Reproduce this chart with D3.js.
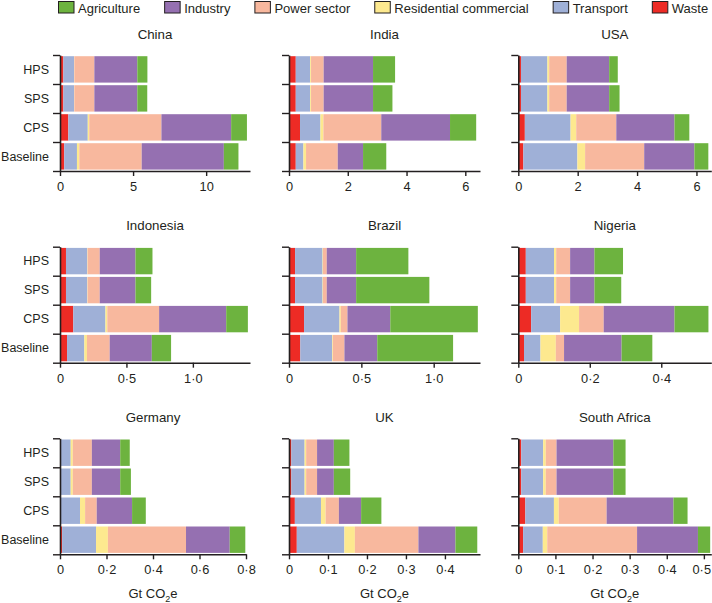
<!DOCTYPE html>
<html>
<head>
<meta charset="utf-8">
<script src="https://cdn.jsdelivr.net/npm/d3@7"></script>
<style>
  html, body { margin: 0; padding: 0; background: #fff; }
  svg text { font-family: "Liberation Sans", Arial, sans-serif; fill: #231f20; }
</style>
</head>
<body>
<svg id="chart" width="712" height="603"></svg>
<script>
// ---------- DATA ----------
const sectors = ["Waste", "Transport", "Residential commercial", "Power sector", "Industry", "Agriculture"];
const legendOrder = ["Agriculture", "Industry", "Power sector", "Residential commercial", "Transport", "Waste"];
const sectorColors = ["#ed2b25", "#9fb0d7", "#fde98f", "#f8b89e", "#9570b1", "#6db33f"];
const scenarios = ["HPS", "SPS", "CPS", "Baseline"];
const countries = ["China", "India", "USA", "Indonesia", "Brazil", "Nigeria", "Germany", "UK", "South Africa"];

// values per scenario, in sector order: Waste, Transport, Residential commercial, Power sector, Industry, Agriculture (Gt CO2e)
const china = [
  [0.23, 0.73, 0.02, 1.37, 2.94, 0.69],
  [0.23, 0.73, 0.02, 1.37, 2.94, 0.68],
  [0.57, 1.33, 0.10, 4.94, 4.77, 1.08],
  [0.29, 0.87, 0.16, 4.27, 5.62, 1.00]
];
const india = [
  [0.23, 0.49, 0.03, 0.43, 1.68, 0.75],
  [0.23, 0.49, 0.03, 0.43, 1.68, 0.66],
  [0.375, 0.695, 0.10, 1.97, 2.34, 0.89],
  [0.23, 0.26, 0.09, 1.08, 0.86, 0.79]
];
const usa = [
  [0.09, 0.89, 0.06, 0.59, 1.43, 0.29],
  [0.09, 0.89, 0.06, 0.59, 1.43, 0.35],
  [0.22, 1.54, 0.19, 1.35, 1.96, 0.50],
  [0.17, 1.82, 0.26, 1.99, 1.69, 0.47]
];
const indonesia = [
  [0.045, 0.16, 0.003, 0.091, 0.269, 0.128],
  [0.045, 0.16, 0.003, 0.091, 0.269, 0.118],
  [0.10, 0.242, 0.014, 0.39, 0.505, 0.163],
  [0.053, 0.13, 0.02, 0.171, 0.317, 0.145]
];
const brazil = [
  [0.042, 0.19, 0.003, 0.026, 0.203, 0.361],
  [0.042, 0.19, 0.003, 0.026, 0.203, 0.506],
  [0.104, 0.245, 0.009, 0.046, 0.296, 0.605],
  [0.078, 0.22, 0.005, 0.08, 0.227, 0.524]
];
const nigeria = [
  [0.021, 0.079, 0.006, 0.039, 0.068, 0.080],
  [0.021, 0.079, 0.006, 0.039, 0.068, 0.075],
  [0.036, 0.081, 0.053, 0.069, 0.198, 0.095],
  [0.016, 0.046, 0.043, 0.023, 0.161, 0.086]
];
const germany = [
  [0.001, 0.045, 0.009, 0.082, 0.122, 0.041],
  [0.001, 0.045, 0.009, 0.082, 0.122, 0.046],
  [0.002, 0.084, 0.022, 0.050, 0.152, 0.059],
  [0.009, 0.146, 0.051, 0.336, 0.188, 0.067]
];
const uk = [
  [0.006, 0.034, 0.004, 0.028, 0.043, 0.040],
  [0.006, 0.034, 0.004, 0.028, 0.043, 0.042],
  [0.015, 0.067, 0.012, 0.034, 0.057, 0.052],
  [0.020, 0.122, 0.027, 0.163, 0.095, 0.056]
];
const southAfrica = [
  [0.008, 0.059, 0.007, 0.029, 0.153, 0.033],
  [0.008, 0.059, 0.007, 0.029, 0.153, 0.033],
  [0.019, 0.077, 0.013, 0.129, 0.180, 0.038],
  [0.013, 0.053, 0.012, 0.242, 0.164, 0.033]
];
const countryValues = [china, india, usa, indonesia, brazil, nigeria, germany, uk, southAfrica];
const axisMax = [13, 6.5, 6.5, 1.43, 1.32, 0.54, 0.8, 0.49, 0.52];
const tickValues = [
  [0, 5, 10], [0, 2, 4, 6], [0, 2, 4, 6],
  [0, 0.5, 1.0], [0, 0.5, 1.0], [0, 0.2, 0.4],
  [0, 0.2, 0.4, 0.6, 0.8], [0, 0.1, 0.2, 0.3, 0.4], [0, 0.1, 0.2, 0.3, 0.4, 0.5]
];
const tickLabels = [
  ["0", "5", "10"], ["0", "2", "4", "6"], ["0", "2", "4", "6"],
  ["0", "0·5", "1·0"], ["0", "0·5", "1·0"], ["0", "0·2", "0·4"],
  ["0", "0·2", "0·4", "0·6", "0·8"], ["0", "0·1", "0·2", "0·3", "0·4"], ["0", "0·1", "0·2", "0·3", "0·4", "0·5"]
];

// ---------- LAYOUT ----------
const svg = d3.select("#chart");
const colX = [60, 289, 518.3];
const panelW = [190, 191, 193, 190, 191, 193, 186, 191, 193];
const rowY = [55, 246.7, 438.3];
const panelH = 116;
const axisColor = "#231f20";
const color = d3.scaleOrdinal().domain(sectors).range(sectorColors);

countries.forEach((name, i) => {
  const col = i % 3, row = Math.floor(i / 3);
  const g = svg.append("g").attr("transform", `translate(${colX[col]},${rowY[row]})`);
  const w = panelW[i];
  const x = d3.scaleLinear().domain([0, axisMax[i]]).range([0, w]);
  const y = d3.scaleBand().domain(scenarios).range([0, panelH]);

  const data = scenarios.map((s, si) => {
    const obj = { scenario: s };
    sectors.forEach((sec, k) => obj[sec] = countryValues[i][si][k]);
    return obj;
  });
  const stack = d3.stack().keys(sectors)(data);

  g.selectAll("g.layer").data(stack).join("g")
    .attr("class", "layer")
    .attr("fill", d => color(d.key))
    .selectAll("rect").data(d => d).join("rect")
    .attr("x", d => x(d[0]))
    .attr("width", d => Math.max(0, x(d[1]) - x(d[0])))
    .attr("y", d => y(d.data.scenario) + 1.2)
    .attr("height", y.bandwidth() - 2.6);

  // title
  g.append("text")
    .attr("x", w / 2).attr("y", -16.5)
    .attr("text-anchor", "middle")
    .style("font-size", "13.3px")
    .text(name);

  // x axis
  const xAxis = d3.axisBottom(x)
    .tickValues(tickValues[i])
    .tickFormat((d, k) => tickLabels[i][k])
    .tickSize(5).tickSizeOuter(0).tickPadding(6);
  const xg = g.append("g").attr("transform", `translate(0,${panelH})`).call(xAxis);
  xg.select(".domain").attr("stroke", axisColor).attr("stroke-width", 1.6);
  xg.selectAll(".tick line").attr("stroke", axisColor).attr("stroke-width", 1.4);
  xg.selectAll(".tick text").style("font-size", "12.8px").attr("fill", axisColor)
    .each(function () {
      const b = this.getBoundingClientRect();
      if (b.right > 711) d3.select(this).attr("dx", -(b.right - 711));
    });

  // y axis with ticks at band boundaries
  const yb = d3.scaleLinear().domain([0, 4]).range([0, panelH]);
  const yAxis = d3.axisLeft(yb).tickValues([0, 1, 2, 3, 4]).tickFormat("").tickSize(7).tickSizeOuter(0);
  const yg = g.append("g").call(yAxis);
  yg.select(".domain").attr("stroke", axisColor).attr("stroke-width", 1.6);
  yg.selectAll(".tick line").attr("stroke", axisColor).attr("stroke-width", 1.4);

  if (col === 0) {
    const labAxis = d3.axisLeft(y).tickSize(0).tickPadding(11);
    const lg = g.append("g").call(labAxis);
    lg.select(".domain").remove();
    lg.selectAll(".tick text").style("font-size", "12.5px").attr("fill", axisColor);
  }

  if (row === 2) {
    const t = g.append("text")
      .attr("x", w / 2).attr("y", panelH + 44)
      .attr("text-anchor", "middle")
      .style("font-size", "13px");
    t.append("tspan").text("Gt CO");
    t.append("tspan").attr("dy", 3.5).style("font-size", "9px").text("2");
    t.append("tspan").attr("dy", -3.5).text("e");
  }
});

// ---------- LEGEND ----------
const lg = svg.append("g");
let lx = 58;
legendOrder.forEach((key) => {
  const it = lg.append("g").attr("transform", `translate(${lx},0)`);
  it.append("rect").attr("x", 0.5).attr("y", 1.5).attr("width", 15.5).attr("height", 11.5)
    .attr("fill", color(key)).attr("stroke", "#231f20").attr("stroke-width", 1);
  const t = it.append("text").attr("x", 20).attr("y", 12.6).style("font-size", "13px").text(key);
  lx += 20 + t.node().getComputedTextLength() + 24;
});
</script>
</body>
</html>
